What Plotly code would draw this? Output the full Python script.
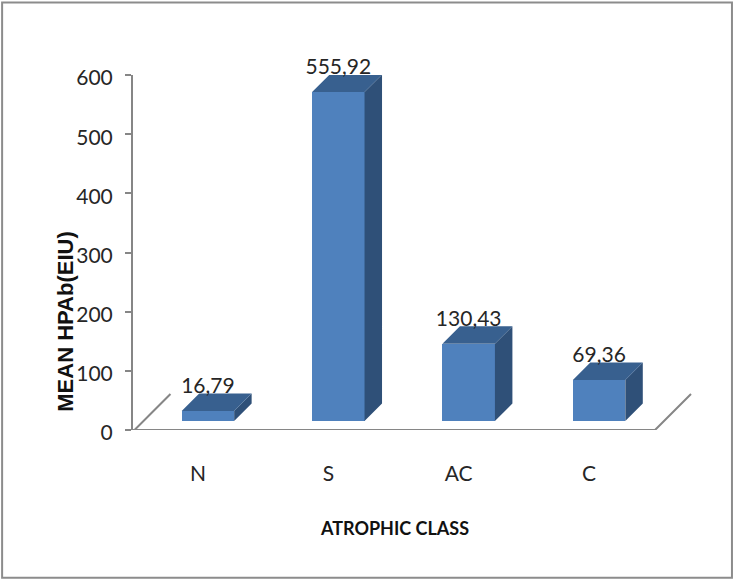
import plotly.graph_objects as go

# data
categories = ["N", "S", "AC", "C"]
values = [16.79, 555.92, 130.43, 69.36]
y_ticks = [0, 100, 200, 300, 400, 500, 600]

W, H = 734, 580
LEFT, RIGHT, TOP, BOTTOM = 132.5, 692, 74.5, 430

# pixel scale of the axes
x_step = 130.5
y_scale = (BOTTOM - TOP) / 600
x0_px = 207.5


def dx(px):
    return px / x_step


def dy(px):
    return px / y_scale


bar_w = dx(52.5)
depth_x, depth_y = dx(17.5), dy(17.5)
wall_x, wall_y = dx(36), dy(36)
lift = dy(9)
label_dx = dx(10)

front = "#4f81bd"
top_col = "#38608f"
side_col = "#2f5078"
axis_col = "#868686"
text_col = "#262626"
label_font = "Lato, sans-serif"

x_pos = list(range(len(categories)))
x_min = (LEFT - x0_px) / x_step
x_max = (RIGHT - x0_px) / x_step
floor_end = (655 - x0_px) / x_step

fig = go.Figure()

# floor lines
fig.add_trace(go.Scatter(
    x=[x_min + dx(1.5), x_min + dx(1.5) + wall_x, None, x_min, floor_end, floor_end + wall_x],
    y=[0, wall_y, None, 0, 0, wall_y],
    mode="lines", line=dict(color=axis_col, width=2), cliponaxis=False,
    hoverinfo="skip", showlegend=False))

# side and top faces of the bars
side_x, side_y, top_x, top_y = [], [], [], []
for x, v in zip(x_pos, values):
    l, r = x - bar_w / 2, x + bar_w / 2
    t = v + lift
    side_x += [r, r + depth_x, r + depth_x, r, r, None]
    side_y += [lift, lift + depth_y, t + depth_y, t, lift, None]
    top_x += [l, l + depth_x, r + depth_x, r, l, None]
    top_y += [t, t + depth_y, t + depth_y, t, t, None]

fig.add_trace(go.Scatter(x=side_x, y=side_y, mode="lines", fill="toself", fillcolor=side_col,
                         line=dict(width=0), cliponaxis=False, hoverinfo="skip", showlegend=False))
fig.add_trace(go.Scatter(x=top_x, y=top_y, mode="lines", fill="toself", fillcolor=top_col,
                         line=dict(width=0), cliponaxis=False, hoverinfo="skip", showlegend=False))

# front faces
fig.add_trace(go.Bar(x=x_pos, y=values, base=lift, width=bar_w, marker=dict(color=front, line=dict(width=0)),
                     cliponaxis=False, showlegend=False))

# value labels, decimal comma as in the original
# anchor a little under the bar's back edge, the text box has some padding and S would leave the axis range
fig.add_trace(go.Scatter(
    x=x_pos, y=[v + lift + depth_y - dy(4.5) for v in values],
    mode="text", text=[f"{v:.2f}".replace(".", ",") for v in values],
    textposition="top center", textfont=dict(family=label_font, size=21, color=text_col),
    cliponaxis=False, hoverinfo="skip", showlegend=False))

fig.update_layout(
    width=W, height=H,
    margin=dict(l=LEFT, r=W - RIGHT, t=TOP, b=H - BOTTOM, pad=0, autoexpand=False),
    paper_bgcolor="white", plot_bgcolor="white",
    showlegend=False,
    bargap=0,
)

fig.update_xaxes(
    range=[x_min, x_max], showgrid=False, zeroline=False, showline=False, ticks="",
    tickmode="array", tickvals=[x - label_dx for x in x_pos], ticktext=categories,
    tickfont=dict(family=label_font, size=21, color=text_col), ticklabelstandoff=29,
)
fig.update_yaxes(
    range=[0, 600], showgrid=False, zeroline=False, showline=True, linecolor=axis_col, linewidth=2,
    ticks="outside", ticklen=6, tickwidth=1.6, tickcolor=axis_col,
    tickmode="array", tickvals=y_ticks, ticklabelshift=3,
    tickfont=dict(family=label_font, size=21, color=text_col), ticklabelstandoff=8,
)


def px_x(px):
    return (px - LEFT) / (RIGHT - LEFT)


def px_y(px):
    return (BOTTOM - px) / (BOTTOM - TOP)


fig.add_annotation(text="<b>MEAN HPAb(EIU)</b>", xref="paper", yref="paper", x=px_x(65), y=px_y(322),
                   xanchor="center", yanchor="middle", textangle=-90, showarrow=False,
                   font=dict(family="Liberation Sans, sans-serif", size=22, color="#111111"))
fig.add_annotation(text="<b>ATROPHIC CLASS</b>", xref="paper", yref="paper", x=px_x(394.5), y=px_y(528),
                   xanchor="center", yanchor="middle", showarrow=False,
                   font=dict(family=label_font, size=18, color="#111111"))

# grey frame of the picture
fig.add_shape(type="rect", xref="paper", yref="paper",
              x0=px_x(1.5), x1=px_x(732), y0=px_y(2), y1=px_y(578),
              line=dict(color="#8c8c8c", width=2), fillcolor="rgba(0,0,0,0)", layer="below")

# page margin off so the figure fills the window
fig.write_html("out.html", config={"displayModeBar": False},
               post_script="document.body.style.margin='0';")
